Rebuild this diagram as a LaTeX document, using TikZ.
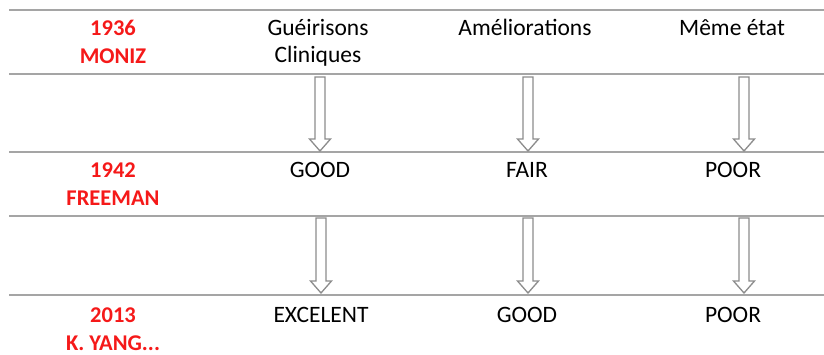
\documentclass[tikz,border=0pt]{standalone}
\usepackage{fontspec}
\setmainfont{Carlito}
\usetikzlibrary{calc}
\definecolor{ruleGray}{RGB}{165,165,165}
\definecolor{arrowGray}{RGB}{140,140,140}
\definecolor{docRed}{RGB}{245,25,25}
\begin{document}
\begin{tikzpicture}[x=1pt,y=-1pt,
  rule/.style={draw=ruleGray, line width=2pt},
  who/.style={font=\fontsize{22.5}{28}\selectfont\bfseries, text=docRed, align=center, anchor=base, inner sep=0pt},
  cell/.style={font=\fontsize{23.5}{27}\selectfont, align=center, anchor=base, inner sep=0pt},
  hollow/.style={draw=arrowGray, line width=1.3pt, fill=white, line join=miter}]
\useasboundingbox (0,0) rectangle (824,354);
% horizontal rules
\foreach \yy in {10,74,152,216,295}{
  \draw[rule] (9,\yy) -- (824,\yy);
}
% left column (red); base anchor = last line's baseline
\node[who] (moniz) at (113,63) {1936\\MONIZ};
\node[who] (freeman) at (113,205) {1942\\FREEMAN};
\node[who] (yang) at (113,350) {2013\\K. YANG...};
% header row
\node[cell] (h1) at (318,62) {Guéirisons\\Cliniques};
\node[cell] (h2) at (525,35) {Améliorations};
\node[cell] (h3) at (732,35) {Même état};
% 1942 row
\node[cell] (f1) at (320,177) {GOOD};
\node[cell] (f2) at (527,177) {FAIR};
\node[cell] (f3) at (733,177) {POOR};
% 2013 row
\node[cell] (y1) at (321,322) {EXCELENT};
\node[cell] (y2) at (527,322) {GOOD};
\node[cell] (y3) at (733,322) {POOR};
% arrow end points
\coordinate (a1t) at (320,77);  \coordinate (a1h) at (320,151);
\coordinate (a2t) at (528,77);  \coordinate (a2h) at (528,151);
\coordinate (a3t) at (744,77);  \coordinate (a3h) at (744,151);
\coordinate (b1t) at (321,218); \coordinate (b1h) at (321,293);
\coordinate (b2t) at (528,218); \coordinate (b2h) at (528,293);
\coordinate (b3t) at (744,218); \coordinate (b3h) at (744,293);
\foreach \a in {a1,a2,a3,b1,b2,b3}{
  \draw[hollow] ($(\a t)+(-5,0)$) -- ($(\a h)+(-5,-12)$) -- ($(\a h)+(-10.5,-12)$) -- (\a h)
    -- ($(\a h)+(10.5,-12)$) -- ($(\a h)+(5,-12)$) -- ($(\a t)+(5,0)$) -- cycle;
}
\end{tikzpicture}
\end{document}
